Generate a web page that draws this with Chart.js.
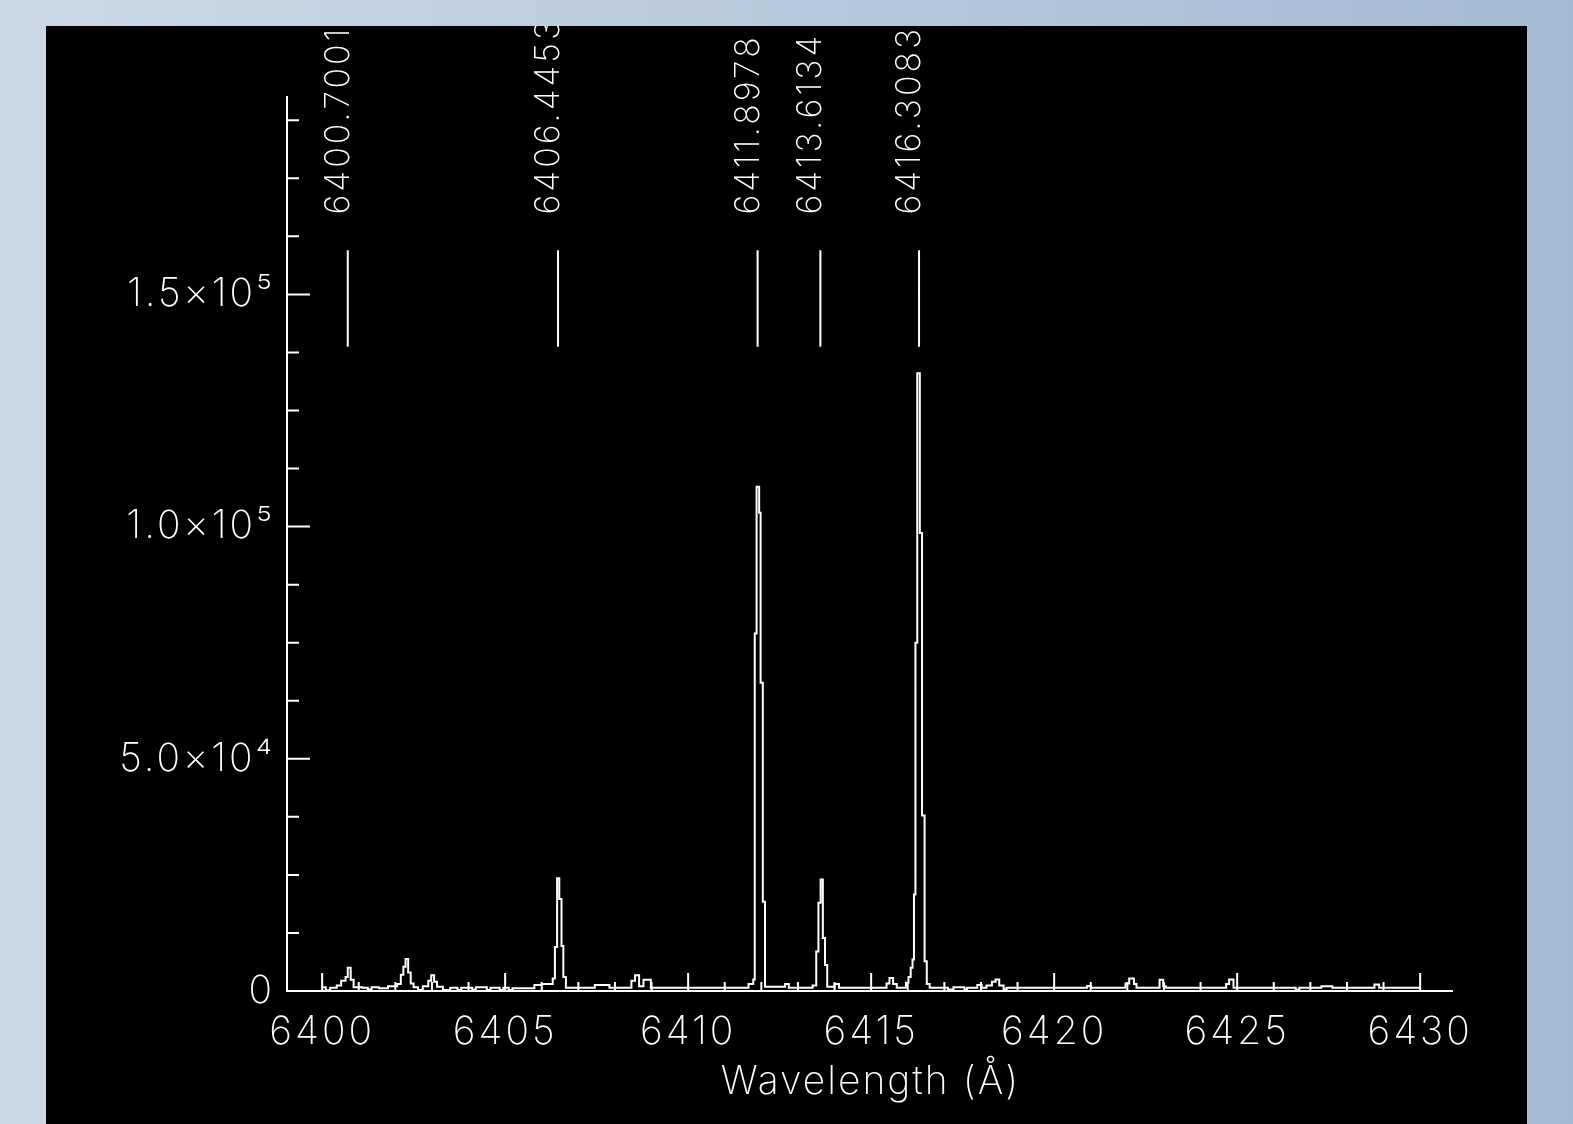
<!DOCTYPE html>
<html>
<head>
<meta charset="utf-8">
<title>Spectrum</title>
<script src="https://cdn.jsdelivr.net/npm/chart.js@4.4.1/dist/chart.umd.min.js"></script>
<style>
  html, body { margin: 0; padding: 0; }
  body {
    width: 1573px; height: 1124px; overflow: hidden;
    background: linear-gradient(to right, #cbd9e6, #a4bad3);
  }
  #panel { position: absolute; left: 46px; top: 26px; width: 1481px; height: 1098px; background: #000; }
</style>
</head>
<body>
<div id="panel"><canvas id="spec" width="1481" height="1098"></canvas></div>
<script>
/* ==================
    DATOS
================== */

// espectro: borde del escalon (A) y cuentas
const specWave = [
  6400.00, 6400.10, 6400.22, 6400.40, 6400.52, 6400.64, 6400.70, 6400.78, 6400.86,
  6401.10, 6401.25, 6401.35, 6401.55, 6401.80, 6402.05, 6402.15, 6402.22, 6402.28,
  6402.35, 6402.42, 6402.50, 6402.62, 6402.75, 6402.90, 6402.98, 6403.06, 6403.14,
  6403.30, 6403.50, 6403.70, 6403.80, 6404.10, 6404.20, 6404.50, 6404.60, 6404.85,
  6404.95, 6405.10, 6405.20, 6405.80, 6406.00, 6406.30, 6406.36, 6406.42, 6406.48,
  6406.54, 6406.59, 6406.66, 6407.45, 6407.85, 6408.45, 6408.55, 6408.66, 6408.78,
  6408.98, 6410.60, 6411.65, 6411.78, 6411.82, 6411.87, 6411.94, 6411.98, 6412.04,
  6412.10, 6412.65, 6412.75, 6413.40, 6413.50, 6413.56, 6413.62, 6413.68, 6413.74,
  6413.80, 6414.00, 6414.12, 6415.42, 6415.50, 6415.60, 6415.70, 6415.95, 6416.02,
  6416.08, 6416.13, 6416.17, 6416.21, 6416.26, 6416.33, 6416.39, 6416.46, 6416.52,
  6416.60, 6417.10, 6417.25, 6417.55, 6417.62, 6417.90, 6418.02, 6418.15, 6418.30,
  6418.40, 6418.50, 6418.62, 6418.70, 6420.90, 6421.00, 6421.95, 6422.05, 6422.18,
  6422.25, 6422.88, 6422.98, 6423.05, 6424.70, 6424.78, 6424.90, 6426.60, 6426.70,
  6427.30, 6427.60, 6428.75, 6428.88, 6430.00
];
const specCount = [
  800, 150, 700, 1200, 2200, 3000, 5000, 2400, 800,
  700, 300, 800, 600, 1000, 1500, 3500, 5200, 6900,
  4000, 1600, 800, 200, 1000, 2200, 3400, 2000, 900,
  200, 700, 200, 700, 300, 800, 200, 700, 200,
  700, 200, 600, 1300, 1500, 2700, 9500, 24300, 19800,
  9700, 3000, 700, 1300, 700, 2200, 3400, 1000, 2400,
  700, 700, 1500, 2500, 77000, 108600, 103000, 66400, 19200,
  900, 1500, 700, 1200, 8500, 19000, 24000, 11400, 5600,
  900, 1500, 700, 1600, 2800, 1500, 700, 1800, 3000,
  5000, 6800, 20800, 75000, 133000, 98600, 37800, 6400, 1500,
  700, 300, 800, 300, 700, 1300, 700, 1200, 2000,
  2500, 1200, 300, 700, 1100, 700, 1600, 2700, 1500,
  700, 2400, 1000, 700, 1500, 2500, 700, 300, 700,
  1000, 700, 1400, 700, 700
];

// lineas identificadas
const lineWaves = [6400.7001, 6406.4453, 6411.8978, 6413.6134, 6416.3083];
const lineLabels = ['6400.7001', '6406.4453', '6411.8978', '6413.6134', '6416.3083'];

// ejes
const xTickValues = [6400, 6405, 6410, 6415, 6420, 6425, 6430];
const xTickLabels = ['6400', '6405', '6410', '6415', '6420', '6425', '6430'];
const yTickValues = [0, 50000, 100000, 150000];
const yTickLabels = ['0', '5.0×10⁴', '1.0×10⁵', '1.5×10⁵'];
const xTitulo = 'Wavelength (Å)';

const fuente = { family: 'Inter', size: 39, weight: '200' };

/* ==================
    TICKS HACIA DENTRO + LINEAS
================== */

const estiloIDL = {
    id: 'estiloIDL',
    beforeDraw(chart) {
        // letra algo espaciada como la fuente vectorial
        chart.ctx.letterSpacing = '3px';
    },
    afterDatasetsDraw(chart) {
        const ctx = chart.ctx;
        const sx = chart.scales.x;
        const sy = chart.scales.y;
        const area = chart.chartArea;
        ctx.save();
        ctx.strokeStyle = '#fff';
        ctx.lineWidth = 2;
        ctx.beginPath();
        // x: mayores cada 5, menores cada 1
        for (let v = 6400; v <= 6430; v++) {
            const px = sx.getPixelForValue(v);
            const len = v % 5 === 0 ? 18 : 9;
            ctx.moveTo(px, area.bottom);
            ctx.lineTo(px, area.bottom - len);
        }
        // y: mayores cada 50000, menores cada 12500
        for (let v = 0; v <= sy.max; v += 12500) {
            const py = sy.getPixelForValue(v);
            const len = v % 50000 === 0 ? 23 : 12;
            ctx.moveTo(area.left, py);
            ctx.lineTo(area.left + len, py);
        }
        // marcas de lineas
        lineWaves.forEach(w => {
            const px = sx.getPixelForValue(w);
            ctx.moveTo(px, sy.getPixelForValue(138700));
            ctx.lineTo(px, sy.getPixelForValue(159500));
        });
        ctx.stroke();

        ctx.fillStyle = '#fff';
        ctx.font = fuente.weight + ' 34px ' + fuente.family;
        ctx.letterSpacing = '3px';
        ctx.textAlign = 'left';
        ctx.textBaseline = 'alphabetic';
        lineWaves.forEach((w, i) => {
            ctx.save();
            ctx.translate(sx.getPixelForValue(w) + 1, sy.getPixelForValue(167200));
            ctx.rotate(-Math.PI / 2);
            ctx.fillText(lineLabels[i], 0, 0);
            ctx.restore();
        });

        // titulo del eje x
        ctx.font = fuente.weight + ' ' + fuente.size + 'px ' + fuente.family;
        ctx.letterSpacing = '2px';
        ctx.textAlign = 'center';
        ctx.textBaseline = 'middle';
        ctx.fillText(xTitulo, (area.left + area.right) / 2 + 1, area.bottom + 91);
        ctx.restore();
    }
};

new Chart(document.getElementById('spec'), {
    type: 'line',
    data: {
        datasets: [{
            data: specWave.map((w, i) => ({ x: w, y: specCount[i] })),
            borderColor: '#fff',
            borderWidth: 2,
            stepped: 'before',
            pointRadius: 0,
            fill: false
        }]
    },
    options: {
        responsive: false,
        animation: false,
        devicePixelRatio: 1,
        layout: { padding: { top: 71, right: 75, left: 0, bottom: 0 } },
        plugins: {
            legend: { display: false },
            tooltip: { enabled: false }
        },
        scales: {
            x: {
                type: 'linear',
                min: 6399.04,
                max: 6430.87,
                afterBuildTicks: s => { s.ticks = xTickValues.map(v => ({ value: v })); },
                afterFit: s => { s.height = 133; },
                grid: { display: false, drawTicks: false },
                border: { display: true, color: '#fff', width: 2 },
                ticks: {
                    color: '#fff', font: fuente, padding: 18, maxRotation: 0, autoSkip: false,
                    callback: v => xTickLabels[xTickValues.indexOf(v)]
                }
            },
            y: {
                min: 0,
                max: 192500,
                afterBuildTicks: s => { s.ticks = yTickValues.map(v => ({ value: v })); },
                afterFit: s => { s.width = 241; },
                grid: { display: false, drawTicks: false },
                border: { display: true, color: '#fff', width: 2 },
                ticks: {
                    color: '#fff', font: fuente, padding: 12, autoSkip: false,
                    callback: v => yTickLabels[yTickValues.indexOf(v)]
                }
            }
        }
    },
    plugins: [estiloIDL]
});
</script>
</body>
</html>
